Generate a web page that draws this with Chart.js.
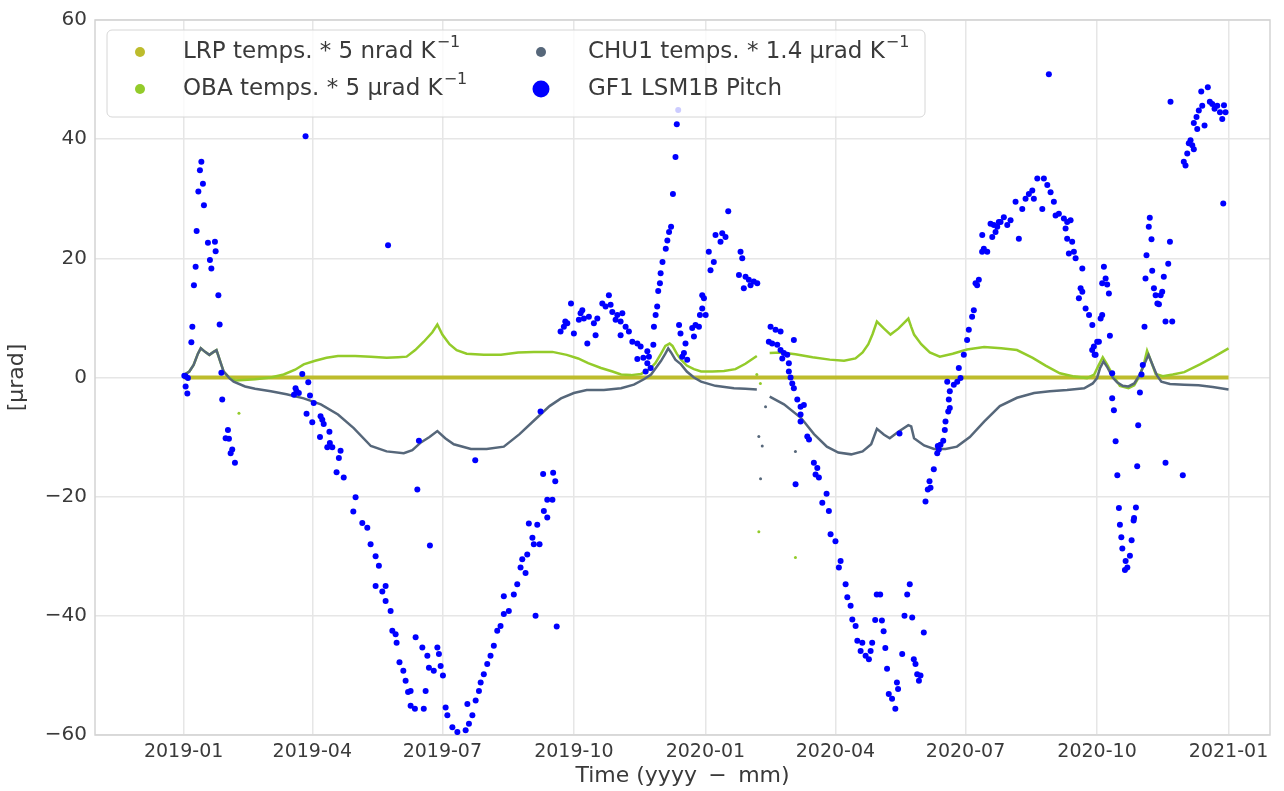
<!DOCTYPE html>
<html>
<head>
<meta charset="utf-8">
<script src="https://cdn.jsdelivr.net/npm/chart.js@4.4.0/dist/chart.umd.min.js"></script>
<style>
  body { margin: 0; background: #fff; }
  #wrap { width: 1284px; height: 791px; position: relative; }
</style>
</head>
<body>
<div id="wrap"><canvas id="chart"></canvas></div>
<script>
// x values are days counted from 2019-01-01
const tickDays = [0, 90, 181, 273, 365, 456, 547, 639, 731];
const tickLabels = ['2019-01', '2019-04', '2019-07', '2019-10', '2020-01', '2020-04', '2020-07', '2020-10', '2021-01'];

const lrpDays = [0, 731];
const lrpVals = [0, 0];

const obaDays = [0, 4, 7, 10, 12, 15, 18, 21, 23, 26, 28, 32, 36, 42, 50, 61, 70, 78, 84, 92, 100, 108, 120, 131, 142, 150, 156, 162, 168, 174, 177.5, 181, 186, 191, 198, 210, 222, 234, 245, 258, 268, 276, 283, 292, 300, 306, 313, 320, 326, 330, 334, 337, 340, 342, 345, 348, 352, 357, 362, 370, 378, 386, 393, 401,
  405,
  410, 418, 428, 440, 452, 462, 470, 475, 479, 482, 485, 490, 494.5, 500, 507, 509, 511, 516, 522, 529, 538, 548, 560, 572, 583, 594, 603, 613, 622, 632, 637, 640, 643, 646, 650, 655, 661, 665, 669, 672, 674, 677, 680, 685, 692, 700, 711, 721, 731];
const obaVals = [0.4, 1.0, 2.1, 4.0, 4.9, 4.3, 3.8, 4.3, 4.6, 2.4, 1.0, 0.0, -0.5, -0.4, -0.3, 0.0, 0.5, 1.3, 2.2, 2.8, 3.3, 3.6, 3.6, 3.5, 3.3, 3.4, 3.5, 4.6, 6.0, 7.6, 8.9, 7.2, 5.6, 4.6, 4.0, 3.8, 3.8, 4.2, 4.3, 4.3, 3.8, 3.2, 2.4, 1.6, 1.0, 0.5, 0.4, 0.6, 1.4, 2.4, 4.0, 5.3, 5.7, 5.3, 4.0, 3.0, 2.0, 1.4, 1.0, 1.0, 1.1, 1.4, 2.3, 3.6,
  null,
  4.1, 4.2, 3.9, 3.4, 3.0, 2.8, 3.2, 4.2, 5.6, 7.3, 9.4, 8.2, 7.2, 8.2, 9.9, 8.5, 7.2, 5.6, 4.2, 3.5, 4.0, 4.7, 5.1, 4.9, 4.6, 3.3, 2.0, 0.7, 0.2, -0.1, 0.5, 2.0, 3.4, 2.2, 0.4, -1.4, -1.8, -1.3, 0.4, 2.5, 4.5, 2.6, 0.6, 0.2, 0.5, 0.9, 2.2, 3.5, 4.9];

const chuDays = [0, 4, 7, 10, 12, 15, 18, 21, 23, 26, 28, 32, 35, 43, 50, 61, 72, 84, 96, 108, 119, 131, 142, 154, 160, 166, 172, 177.5, 183, 189, 201, 212, 224, 235, 247, 256, 264, 273, 282, 294, 306, 315, 322, 327, 331, 334, 337, 339, 341, 344, 348, 352, 357, 362, 372, 385, 393, 401,
  405,
  410, 420, 432, 441, 450, 458, 467, 475, 481, 485, 490, 494, 500, 507, 509, 511, 518, 525, 533, 541, 550, 560, 571, 583, 595, 606, 618, 630, 636, 639, 641, 643.5, 646, 650, 653, 657, 661, 665, 669, 672, 675, 678, 681, 684, 690, 700, 710, 720, 731];
const chuVals = [0.4, 1.0, 2.1, 4.0, 4.9, 4.3, 3.8, 4.3, 4.6, 2.4, 1.0, -0.1, -0.7, -1.5, -1.9, -2.3, -2.8, -3.5, -4.5, -6.2, -8.5, -11.5, -12.4, -12.7, -12.2, -10.9, -10.0, -9.0, -10.2, -11.2, -12.0, -12.0, -11.6, -9.5, -6.8, -4.8, -3.5, -2.6, -2.1, -2.1, -1.8, -1.2, -0.3, 0.5, 1.8, 2.8, 4.0, 4.9, 4.2, 3.0, 2.2, 1.0, 0.0, -0.7, -1.4, -1.8, -1.9, -2.0,
  null,
  -3.2, -4.5, -6.8, -9.5, -11.6, -12.6, -12.9, -12.4, -11.2, -8.6, -9.6, -10.2, -9.1, -8.0, -8.2, -10.2, -11.4, -12.0, -12.0, -11.6, -10.0, -7.4, -4.8, -3.4, -2.6, -2.3, -2.1, -1.8, -1.0, -0.1, 1.5, 2.7, 1.8, 0.0, -0.8, -1.4, -1.5, -1.0, 0.5, 2.2, 3.8, 2.0, 0.3, -0.7, -1.1, -1.2, -1.3, -1.6, -2.0];

// stray temperature samples away from the curves
const obaOutDays = [38.7, 401, 402.4, 403.5, 428];
const obaOutVals = [-6.0, 0.5, -25.9, -1.0, -30.2];
const chuOutDays = [402.4, 404.8, 403.6, 407.1, 428];
const chuOutVals = [-9.9, -11.5, -17.0, -4.9, -12.4];

const pitchDays = [
  0.5, 1.4, 3, 1.4, 2.6, 5.4, 6.1, 7.2, 8.4, 9.1, 10.3, 11.4, 12.4, 13.5, 14.2, 17, 18.4, 19.4, 21.9, 22.4, 24.3, 25.2, 26.4, 27, 29.4, 31, 31.7, 32.9, 34, 35.9,
  77.2, 78.3, 79, 80.6, 83, 85.3, 86, 87.2, 88.4, 90, 91, 95.4, 95.8, 97, 98, 100.5, 102, 102.3, 104, 107, 108.6, 109.8, 112, 118.7, 120.3, 125, 128.5, 130.8, 134.3, 134.3, 136.6, 139, 141.3, 141.3, 143, 144.8, 146, 148.3, 149, 151, 153.7, 155.3, 157, 158.8, 158.8, 161.8, 162.3, 163.5, 164.6, 167, 168, 169.3, 170.5, 171.6, 172.3, 175, 177.5, 178.6, 179.8, 181.4,
  183.3, 184.5, 188, 191.5, 197.3, 198.5, 199.6, 202, 204, 204.3, 206.6, 207.8, 210, 212.4, 214.7, 217, 219.4, 221.7, 224, 224, 227.5, 231, 233.4, 235.7, 236.9, 239.2, 240.4, 241.5, 244, 245, 246.2, 247.4, 249, 249.7, 251.5, 252, 254.4, 254.4, 258, 258.5, 260, 261,
  263.7, 266, 267, 268.4, 271, 273, 276.5, 277.7, 278.9, 280, 282.4, 283.5, 287, 288.2, 289.4, 292.9, 295.2, 297.5, 298.7, 299.9, 302.2, 303.4, 305.7, 305.7, 306.9, 309.2, 311.5, 313.9, 317.4, 317.4, 319.7, 321.6, 323.2, 324.4, 324.4, 325.5, 326.7, 328.6, 329, 330.2, 331.3, 332, 333.2, 333.7, 335, 337.3, 338.4, 339.6, 341, 342.3, 344.1, 345, 346, 346.6, 347.6, 348.8, 350, 351.1, 352.3,
  355.8, 357, 358.1, 360.5, 361.2, 362.8, 362.8, 364, 365.2, 367.4, 368.6, 370.9, 372.1, 375.6, 376.8, 379.1, 381, 388.5, 389.6, 390.8, 391.9, 393.1, 395.4, 396.6, 398.9, 401.3,
  409.4, 410.6, 411.7, 414.1, 415.3, 417.6, 417.6, 418.8, 419.9, 422.3, 423.4, 423.4, 424.6, 425.8, 426.9, 426.9, 428.1, 429.3, 431.6, 431.6, 431.6, 433.9, 436.3, 437.5, 440.9, 442.1, 443.3, 444.4, 446.8, 449.8, 451.4, 452.6, 456, 458.4, 459.6, 463.1, 464.3, 466.6, 467.8, 470.1, 471.3, 473.6, 474.8, 477.1, 479.4, 480.6, 481.7,
  483.8, 484.9, 487.3, 488.5, 489.7, 490.9, 492.1, 493.3, 495.6, 497.9, 499, 499.8, 500.8, 502.7, 504.3, 506.2, 508, 509.7, 510.8, 512, 513.2, 514.4, 515.5, 517.8,
  519, 520.6, 521.8, 522.5, 524.8, 527.2, 527.6, 528.3, 529.5, 531.4, 532.5, 533, 534.2, 534.9, 535.3, 536, 536, 538.8, 541.2, 543.5, 542.3, 545.8, 548.1, 549.3, 551.6, 552.8, 554, 555.1, 556.3, 558.7, 558.6, 559.8, 562.2, 564.5, 565.7, 566.8, 568, 569.2, 570.3, 571.5, 573.8, 576.2, 578.5,
  582, 584.3, 586.7, 589, 591.3, 593.7, 594.8, 597.2, 600.7, 601.8, 604.2, 605.3, 606.5, 608.8, 610, 612.3, 615.8, 617, 618.1, 618.1, 619.3, 620.5, 621.6, 622.8, 624, 626.3, 627.5, 628.7, 628.7, 631, 633.4, 635.6, 635.7, 636.8, 637.3, 638, 639.1, 640.3, 641.5, 642.6, 642.6, 643.8, 645, 646.1, 647.3, 648, 649.6,
  649.6, 650.8, 652, 653.2, 654.3, 655, 656, 656.7, 658.5, 659, 660.2, 662, 663.2, 664.6, 664.9, 666.2, 667.1, 667.8, 669, 670.1, 671, 672.2, 672.9, 673.6, 675.2, 675.9, 677.1, 677.6, 678.8, 680, 681.2, 682.3, 683.5, 684.6, 685.7, 686.9, 686.9, 688.8, 690, 690.4, 691.6, 699,
  699.7, 700.9, 702.1, 703.2, 704.4, 705.6, 706.7, 706.7, 708.6, 709.1, 710.2, 711.9, 712.6, 714.2, 716.5, 717.9, 719.6, 721.2, 723.1, 725, 726.6, 727.3, 727.8, 728.9
];
const pitchVals = [
  0.3, 0.2, -0.1, -1.5, -2.7, 5.9, 8.5, 15.5, 18.6, 24.6, 31.2, 34.8, 36.2, 32.5, 28.9, 22.6, 19.7, 18.3, 22.8, 21.2, 13.8, 8.9, 0.8, -3.7, -10.2, -8.8, -10.3, -12.7, -12.1, -14.3,
  -2.9, -1.8, -2.3, -2.6, 0.6, 40.5, -6.1, -0.8, -3.0, -7.5, -4.3, -10.0, -6.5, -7.1, -7.8, -11.7, -9.1, -11.0, -11.7, -15.9, -13.5, -12.3, -16.8, -22.5, -20.1, -24.4, -25.2, -28.0, -30.0, -35.0, -31.6, -35.9, -35.0, -37.5, 22.2, -39.2, -42.5, -43.1, -44.5, -47.8, -49.2, -50.9, -52.8, -52.6, -55.1, -55.6, -43.6, -18.8, -10.6, -45.3, -55.6, -52.6, -46.7, -48.7, -28.2, -49.2, -45.3, -46.4, -48.4, -50.0,
  -55.4, -56.7, -58.7, -59.5, -59.2, -54.8, -58.1, -56.7, -13.9, -54.2, -52.6, -51.2, -49.8, -48.1, -46.7, -45.0, -42.5, -41.7, -39.7, -36.7, -39.2, -36.4, -34.7, -31.9, -30.5, -32.8, -29.7, -24.5, -26.9, -28.0, -40.0, -24.7, -28.0, -5.7, -16.2, -22.4, -23.5, -20.5, -20.5, -16.0, -17.4, -41.8,
  7.7, 8.5, 9.4, 9.1, 12.4, 7.4, 9.7, 10.8, 11.3, 9.9, 5.7, 10.2, 9.1, 7.1, 9.9, 12.4, 11.9, 13.8, 12.2, 11.0, 9.7, 10.5, 9.4, 7.1, 10.8, 8.5, 7.7, 6.0, 5.7, 3.1, 5.2, 3.3, 1.0, 4.4, 2.4, 3.5, 1.6, 5.5, 8.5, 10.5, 11.9, 14.5, 15.8, 17.5, 19.4, 21.6, 23.0, 24.4, 25.3, 30.8, 37.0, 42.5, 44.9, 8.8, 7.4, 3.5, 4.1, 5.7, 3.0,
  8.3, 6.9, 8.8, 8.5, 10.5, 11.6, 13.8, 13.3, 10.5, 21.1, 18.0, 19.4, 23.9, 22.8, 24.2, 23.6, 27.9, 17.2, 21.1, 20.0, 15.0, 16.9, 16.4, 15.5, 16.1, 15.8,
  6.0, 8.5, 5.7, 8.0, 5.5, 7.7, 4.6, 3.2, 4.1, 3.8, 2.4, 1.0, 0.0, -1.0, -1.8, 6.3, -17.9, -3.7, -4.9, -6.2, -7.4, -4.6, -9.9, -10.4, -14.3, -16.3, -15.2, -16.8, -21.0, -19.5, -22.4, -26.3, -27.5, -31.9, -30.8, -34.7, -36.9, -38.3, -40.6, -41.7, -44.2, -45.9, -44.5, -46.7, -47.3, -45.9, -44.5,
  -40.7, -36.4, -36.4, -40.8, -42.6, -45.4, -48.9, -53.1, -53.9, -55.6, -51.2, -52.3, -9.4, -46.4, -40.0, -36.4, -34.7, -40.3, -47.3, -48.1, -49.8, -50.9, -50.0, -42.8,
  -20.8, -18.8, -17.4, -18.5, -15.4, -12.7, -11.5, -12.1, -11.3, -10.6, -8.8, -7.4, -0.7, -5.7, -3.7, -5.1, -2.3, -1.2, -0.7, -0.1, 1.6, 3.8, 6.3, 8.0, 10.2, 11.3, 15.8, 15.5, 16.4, 23.9, 21.1, 21.6, 21.1, 25.8, 23.6, 25.6, 24.4, 25.3, 26.1, 26.1, 26.9, 25.6, 26.4,
  29.5, 23.3, 28.3, 30.0, 30.8, 31.4, 30.0, 33.4, 28.3, 33.4, 32.3, 50.9, 31.1, 29.5, 27.2, 27.5, 26.7, 25.0, 26.1, 23.3, 20.8, 26.4, 22.8, 21.1, 20.0, 13.3, 15.0, 18.3, 14.4, 11.6, 10.5, 4.6, 8.8, 5.2, 3.8, 3.8, 6.0, 6.0, 9.9, 10.5, 15.8, 18.6, 16.6, 15.6, 14.1, 7.0, 0.7,
  -3.5, -5.5, -10.7, -16.4, -21.9, -24.7, -26.8, -28.7, -32.3, -30.8, -31.9, -29.9, -27.3, -24.0, -23.6, -21.8, -14.9, -8.0, -2.5, 0.5, 2.1, 8.5, 16.6, 20.5, 25.3, 26.8, 23.2, 17.9, 15.0, 13.8, 12.4, 12.3, 13.8, 14.4, 16.9, -14.3, 9.4, 19.1, 22.8, 46.3, 9.4, -16.4,
  36.2, 35.6, 37.6, 39.3, 39.8, 39.0, 38.3, 42.7, 43.7, 41.7, 44.8, 48.0, 45.6, 42.3, 48.7, 46.3, 45.9, 45.1, 45.6, 44.5, 43.4, 29.2, 45.7, 44.5
];

const legendLabels = ['LRP temps. * 5 nrad K', 'OBA temps. * 5 \u00b5rad K', 'CHU1 temps. * 1.4 \u00b5rad K', 'GF1 LSM1B Pitch'];
const legendSups = ['\u22121', '\u22121', '\u22121', ''];

const LRP_COLOR = '#bdbc2c';
const OBA_COLOR = '#93cb2a';
const CHU_COLOR = '#56677a';
const PITCH_COLOR = '#0000ff';
const TEXT_COLOR = '#3a3a3a';
const FONT = '"DejaVu Sans", sans-serif';

function pairs(xs, ys) {
	return xs.map(function (x, i) { return { x: x, y: ys[i] }; });
}

const frameAndLegend = {
	id: 'frameAndLegend',
	beforeDatasetsDraw: function (chart) {
		const a = chart.chartArea;
		const ctx = chart.ctx;
		ctx.save();
		ctx.strokeStyle = '#d3d3d3';
		ctx.lineWidth = 1.5;
		ctx.strokeRect(a.left, a.top, a.right - a.left, a.bottom - a.top);
		ctx.restore();
	},
	afterDraw: function (chart) {
		const ctx = chart.ctx;
		ctx.save();
		// legend box
		const bx = 107, by = 30, bw = 818, bh = 87, r = 5;
		ctx.beginPath();
		ctx.moveTo(bx + r, by);
		ctx.arcTo(bx + bw, by, bx + bw, by + bh, r);
		ctx.arcTo(bx + bw, by + bh, bx, by + bh, r);
		ctx.arcTo(bx, by + bh, bx, by, r);
		ctx.arcTo(bx, by, bx + bw, by, r);
		ctx.closePath();
		ctx.fillStyle = 'rgba(255,255,255,0.8)';
		ctx.fill();
		ctx.strokeStyle = '#d6d6d6';
		ctx.lineWidth = 1;
		ctx.stroke();

		const items = [
			{ mx: 140, tx: 183, y: 52, r: 5, c: LRP_COLOR },
			{ mx: 140, tx: 183, y: 89, r: 5, c: OBA_COLOR },
			{ mx: 541, tx: 588, y: 52, r: 5, c: CHU_COLOR },
			{ mx: 541, tx: 588, y: 89, r: 8.5, c: PITCH_COLOR }
		];
		items.forEach(function (it, i) {
			ctx.beginPath();
			ctx.arc(it.mx, it.y, it.r, 0, Math.PI * 2);
			ctx.fillStyle = it.c;
			ctx.fill();
			ctx.fillStyle = TEXT_COLOR;
			ctx.textBaseline = 'middle';
			ctx.textAlign = 'left';
			ctx.font = '23px ' + FONT;
			ctx.fillText(legendLabels[i], it.tx, it.y);
			if (legendSups[i]) {
				const w = ctx.measureText(legendLabels[i]).width;
				ctx.font = '16px ' + FONT;
				ctx.fillText(legendSups[i], it.tx + w + 1, it.y - 9);
			}
		});
		ctx.restore();
	}
};

new Chart(document.getElementById('chart'), {
	type: 'scatter',
	data: {
		datasets: [
			{
				label: 'LRP',
				data: pairs(lrpDays, lrpVals),
				showLine: true,
				borderColor: LRP_COLOR,
				borderWidth: 4,
				pointRadius: 0,
				order: 4
			},
			{
				label: 'OBA',
				data: pairs(obaDays, obaVals),
				showLine: true,
				spanGaps: false,
				borderColor: OBA_COLOR,
				borderWidth: 2.5,
				pointRadius: 0,
				order: 3
			},
			{
				label: 'OBA stray',
				data: pairs(obaOutDays, obaOutVals),
				backgroundColor: OBA_COLOR,
				borderWidth: 0,
				pointRadius: 1.5,
				order: 3
			},
			{
				label: 'CHU1',
				data: pairs(chuDays, chuVals),
				showLine: true,
				spanGaps: false,
				borderColor: CHU_COLOR,
				borderWidth: 2.5,
				pointRadius: 0,
				order: 2
			},
			{
				label: 'CHU1 stray',
				data: pairs(chuOutDays, chuOutVals),
				backgroundColor: CHU_COLOR,
				borderWidth: 0,
				pointRadius: 1.5,
				order: 2
			},
			{
				label: 'GF1 LSM1B Pitch',
				data: pairs(pitchDays, pitchVals),
				backgroundColor: PITCH_COLOR,
				borderWidth: 0,
				pointRadius: 3,
				order: 1
			}
		]
	},
	options: {
		responsive: true,
		maintainAspectRatio: false,
		animation: false,
		layout: { padding: { top: 18, right: 14, left: 0, bottom: 0 } },
		plugins: {
			legend: { display: false },
			tooltip: { enabled: false }
		},
		scales: {
			x: {
				type: 'linear',
				min: -62,
				max: 760,
				afterFit: function (scale) { scale.height = 56; },
				afterBuildTicks: function (scale) {
					scale.ticks = tickDays.map(function (d) { return { value: d }; });
				},
				ticks: {
					autoSkip: false,
					maxRotation: 0,
					padding: 6,
					color: TEXT_COLOR,
					font: { family: FONT, size: 19 },
					callback: function (value, index) { return tickLabels[index]; }
				},
				grid: { color: '#e6e6e6', lineWidth: 1.5, drawTicks: false },
				border: { display: false },
				title: {
					display: true,
					text: 'Time (yyyy \u2009\u2212\u2009 mm)',
					color: TEXT_COLOR,
					font: { family: FONT, size: 22 },
					padding: { top: 0, bottom: 2 }
				}
			},
			y: {
				min: -60,
				max: 60,
				afterFit: function (scale) { scale.width = 95; },
				ticks: {
					stepSize: 20,
					padding: 8,
					color: TEXT_COLOR,
					font: { family: FONT, size: 20 },
					callback: function (value) { return value < 0 ? '\u2212' + Math.abs(value) : String(value); }
				},
				grid: { color: '#e6e6e6', lineWidth: 1.5, drawTicks: false },
				border: { display: false },
				title: {
					display: true,
					text: '[\u00b5rad]',
					color: TEXT_COLOR,
					font: { family: FONT, size: 22 },
					padding: { top: 4, bottom: 0 }
				}
			}
		}
	},
	plugins: [frameAndLegend]
});
</script>
</body>
</html>
